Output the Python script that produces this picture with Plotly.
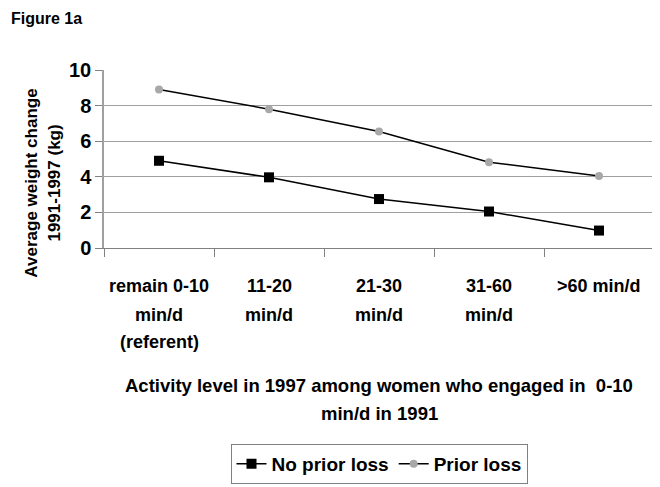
import plotly.graph_objects as go

categories = ["remain 0-10 min/d (referent)", "11-20 min/d", "21-30 min/d", "31-60 min/d", ">60 min/d"]
tick_lines = [["remain 0-10", "min/d", "(referent)"], ["11-20", "min/d"], ["21-30", "min/d"], ["31-60", "min/d"], [">60 min/d"]]
no_prior_loss = [4.9, 3.97, 2.75, 2.05, 0.98]
prior_loss = [8.9, 7.8, 6.55, 4.82, 4.04]

FONT = "Liberation Sans, Arial, sans-serif"
OFF = 8  # default page body margin
W, H = 660 - OFF, 487 - OFF
# plot area in screen pixels: x 104..656, y 70..249
L = 104 - OFF
R = W - (656 - OFF)
T = 70 - OFF
B = H - (249 - OFF)
pw, ph = W - L - R, H - T - B

def px(x):
    return (x - OFF - L) / pw

def py(y):
    return (H - B - (y - OFF)) / ph

fig = go.Figure()
fig.add_trace(go.Scatter(x=categories, y=no_prior_loss, name="No prior loss", mode="lines+markers",
                         line=dict(color="black", width=1.5),
                         marker=dict(symbol="square", size=10, color="black")))
fig.add_trace(go.Scatter(x=categories, y=prior_loss, name="Prior loss", mode="lines+markers",
                         line=dict(color="black", width=1.5),
                         marker=dict(symbol="circle", size=8, color="#a8a8a8")))

annotations = []
line_y = [287, 316, 344]
for cat, lines in zip(categories, tick_lines):
    for i, t in enumerate(lines):
        annotations.append(dict(text=t, x=cat, y=py(line_y[i]), xref="x", yref="paper",
                                xanchor="center", yanchor="middle", showarrow=False,
                                font=dict(family=FONT, size=18, color="black", weight="bold")))
for t, yy in [("Activity level in 1997 among women who engaged in  0-10", 387), ("min/d in 1991", 415)]:
    annotations.append(dict(text=t, x=0.5, y=py(yy), xref="paper", yref="paper",
                            xanchor="center", yanchor="middle", showarrow=False,
                            font=dict(family=FONT, size=18.5, color="black", weight="bold")))
for t, xx in [("Average weight change", 31), ("1991-1997 (kg)", 54)]:
    annotations.append(dict(text=t, x=px(xx), y=py(184), xref="paper", yref="paper",
                            xanchor="center", yanchor="middle", showarrow=False, textangle=-90,
                            font=dict(family=FONT, size=17, color="black", weight="bold")))
annotations.append(dict(text="Figure 1a", x=px(9), y=py(18), xref="paper", yref="paper",
                        xanchor="left", yanchor="middle", showarrow=False,
                        font=dict(family=FONT, size=16, color="black", weight="bold")))

fig.update_layout(
    width=W, height=H,
    margin=dict(l=L, r=R, t=T, b=B),
    paper_bgcolor="white", plot_bgcolor="white",
    font=dict(family=FONT, size=18, color="black"),
    showlegend=True,
    legend=dict(orientation="h", x=0.5, xanchor="center", y=py(446), yanchor="top",
                bordercolor="#808080", borderwidth=1, bgcolor="white",
                font=dict(family=FONT, size=19, color="black", weight="bold"),
                itemwidth=30, tracegroupgap=0),
    annotations=annotations,
    xaxis=dict(type="category", range=[-0.5, 4.5], showticklabels=False,
               ticks="outside", tickson="boundaries", ticklen=8, tickcolor="#808080",
               showline=True, linecolor="#808080", linewidth=1, showgrid=False, zeroline=False),
    yaxis=dict(range=[0, 10], dtick=2, tickfont=dict(family=FONT, size=20, color="black", weight="bold"),
               ticks="outside", ticklen=7, tickcolor="#808080",
               showline=True, linecolor="#a0a0a0", linewidth=1.5, mirror=True,
               showgrid=True, gridcolor="#a0a0a0", gridwidth=1, zeroline=False),
)

fig.write_html("out.html")
